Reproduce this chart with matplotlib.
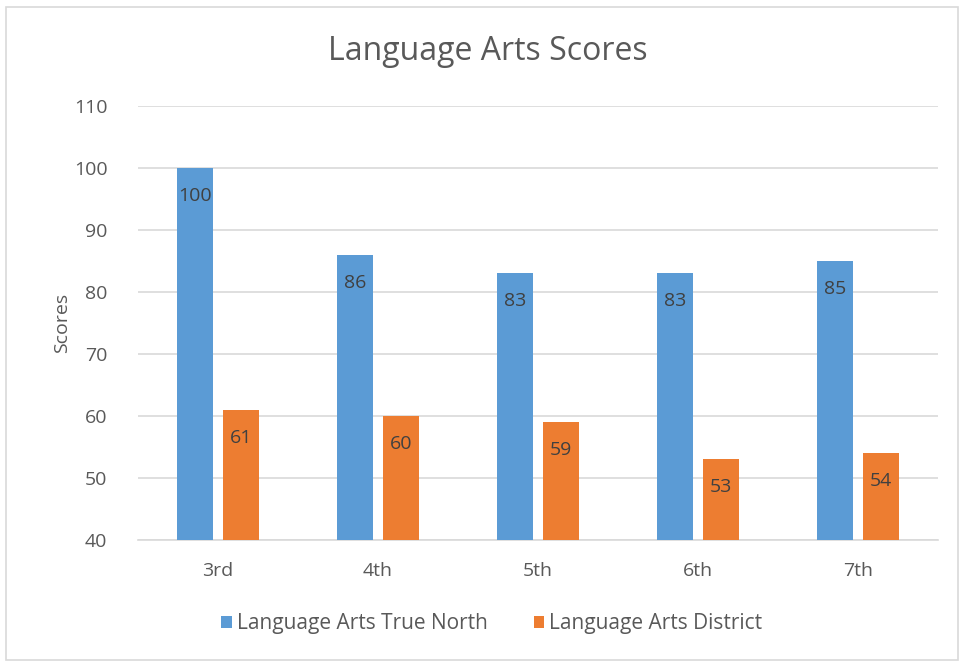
import numpy as np
import matplotlib.pyplot as plt
from matplotlib.patches import Rectangle

# Data
grades = ['3rd', '4th', '5th', '6th', '7th']
true_north = [100, 86, 83, 83, 85]
district = [61, 60, 59, 53, 54]
series_names = ['Language Arts True North', 'Language Arts District']

plt.rcParams['font.family'] = ['Open Sans', 'DejaVu Sans']

fig = plt.figure(figsize=(9.64, 6.62), dpi=100)
ax = fig.add_axes([138 / 964, 1 - 540 / 662, 800 / 964, 434 / 662])

x = np.arange(len(grades))
w = 0.225
off = 0.144
b1 = ax.bar(x - off, true_north, w, color='#5B9BD5', label=series_names[0], zorder=3)
b2 = ax.bar(x + off, district, w, color='#ED7D31', label=series_names[1], zorder=3)

for bars, vals in [(b1, true_north), (b2, district)]:
    for rect, v in zip(bars, vals):
        ax.text(rect.get_x() + rect.get_width() / 2, v - 4.5, str(v),
                ha='center', va='center', fontsize=14, color='#404040', zorder=4)

ax.set_xlim(-0.5, len(grades) - 0.5)
ax.set_ylim(40, 110)
ax.set_yticks(range(40, 111, 10))
ax.set_xticks(x)
ax.set_xticklabels(grades)
ax.tick_params(length=0, labelsize=14, colors='#595959', pad=16)
ax.tick_params(axis='y', pad=22)
ax.grid(axis='y', color='#d9d9d9', linewidth=1.2, zorder=0)
for s in ['top', 'right', 'left']:
    ax.spines[s].set_visible(False)
ax.spines['bottom'].set_color('#d9d9d9')
ax.spines['bottom'].set_linewidth(1.2)

ax.set_ylabel('Scores', fontsize=14, color='#595959', labelpad=2)
fig.text(488 / 964, 1 - 52 / 662, 'Language Arts Scores', ha='center', va='center',
         fontsize=23, color='#595959')

fig.legend(handles=[b1, b2], loc='center', bbox_to_anchor=(492 / 964, 1 - 624 / 662),
           ncol=2, frameon=False, fontsize=15, handlelength=0.5, handleheight=0.5,
           handletextpad=0.25, columnspacing=2.2, labelcolor='#595959')

fig.patches.append(Rectangle((6 / 964, 2 / 662), 952 / 964, 653 / 662,
                             transform=fig.transFigure, fill=False,
                             edgecolor='#d9d9d9', linewidth=1.2))

fig.savefig('out.png', dpi=100)
